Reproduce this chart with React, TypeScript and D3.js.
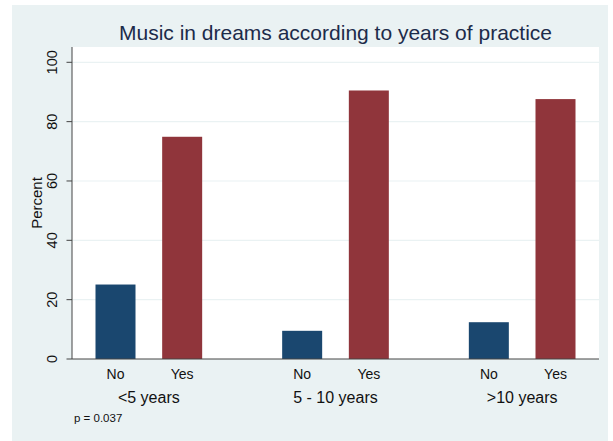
import React from "react";
import * as d3 from "d3";

const groups = ["<5 years", "5 - 10 years", ">10 years"];
const answers = ["No", "Yes"];
const noValues = [25.1, 9.5, 12.4];
const yesValues = [74.9, 90.5, 87.6];
const yTicks = [0, 20, 40, 60, 80, 100];
const title = "Music in dreams according to years of practice";
const yLabel = "Percent";
const note = "p = 0.037";

const W = 613;
const H = 441;
const plot = { left: 72, right: 599, top: 47, bottom: 359 };
const FONT = "'Liberation Sans', Arial, Helvetica, sans-serif";
const colors: Record<string, string> = { No: "#1a476f", Yes: "#90353b" };

export default function App() {
  const y = d3.scaleLinear().domain([0, 100]).range([plot.bottom, 62.3]);
  const gx = d3.scaleBand<string>().domain(groups).range([55.5, 615.5]);
  const ix = d3
    .scaleBand<string>()
    .domain(answers)
    .range([0, gx.bandwidth()])
    .paddingInner(0.4)
    .paddingOuter(0.6);

  const data = groups.flatMap((g, i) => [
    { g, a: "No", v: noValues[i] },
    { g, a: "Yes", v: yesValues[i] },
  ]);

  return (
    <svg
      width={W}
      height={H}
      style={{ position: "absolute", left: 0, top: 0 }}
      fontFamily={FONT}
    >
      <rect x={0} y={0} width={W} height={H} fill="#ffffff" />
      <rect x={12} y={5} width={596} height={436} fill="#eaf2f3" />
      <rect
        x={plot.left}
        y={plot.top}
        width={plot.right - plot.left}
        height={plot.bottom - plot.top}
        fill="#ffffff"
      />
      {yTicks.map((t) => (
        <g key={t}>
          {t > 0 && (
            <line
              x1={plot.left}
              x2={plot.right}
              y1={y(t)}
              y2={y(t)}
              stroke="#eaf2f3"
              strokeWidth={1.2}
            />
          )}
          <line
            x1={66.5}
            x2={plot.left}
            y1={y(t)}
            y2={y(t)}
            stroke="#444"
            strokeWidth={1}
          />
          <text
            transform={`translate(52,${y(t)}) rotate(-90)`}
            textAnchor="middle"
            dy="0.35em"
            fontSize={14.5}
            fill="#111"
          >
            {t}
          </text>
        </g>
      ))}
      {data.map((d) => {
        const x0 = (gx(d.g) as number) + (ix(d.a) as number);
        return (
          <g key={d.g + d.a}>
            <rect
              x={x0}
              y={y(d.v)}
              width={ix.bandwidth()}
              height={plot.bottom - y(d.v)}
              fill={colors[d.a]}
            />
            <text
              x={x0 + ix.bandwidth() / 2}
              y={379}
              textAnchor="middle"
              fontSize={14}
              fill="#111"
            >
              {d.a}
            </text>
          </g>
        );
      })}
      <line
        x1={plot.left}
        x2={plot.left}
        y1={plot.top}
        y2={plot.bottom}
        stroke="#444"
        strokeWidth={1}
      />
      <line
        x1={plot.left}
        x2={plot.right}
        y1={plot.bottom}
        y2={plot.bottom}
        stroke="#444"
        strokeWidth={1}
      />
      {groups.map((g) => (
        <text
          key={g}
          x={(gx(g) as number) + gx.bandwidth() / 2}
          y={403}
          textAnchor="middle"
          fontSize={16}
          fill="#111"
        >
          {g}
        </text>
      ))}
      <text
        transform={`translate(37,${(plot.top + plot.bottom) / 2}) rotate(-90)`}
        textAnchor="middle"
        dy="0.35em"
        fontSize={15}
        fill="#111"
      >
        {yLabel}
      </text>
      <text
        x={(plot.left + plot.right) / 2}
        y={40}
        textAnchor="middle"
        fontSize={21}
        fill="#1c2b4a"
      >
        {title}
      </text>
      <text x={74} y={421.5} fontSize={11.5} fill="#111">
        {note}
      </text>
    </svg>
  );
}
